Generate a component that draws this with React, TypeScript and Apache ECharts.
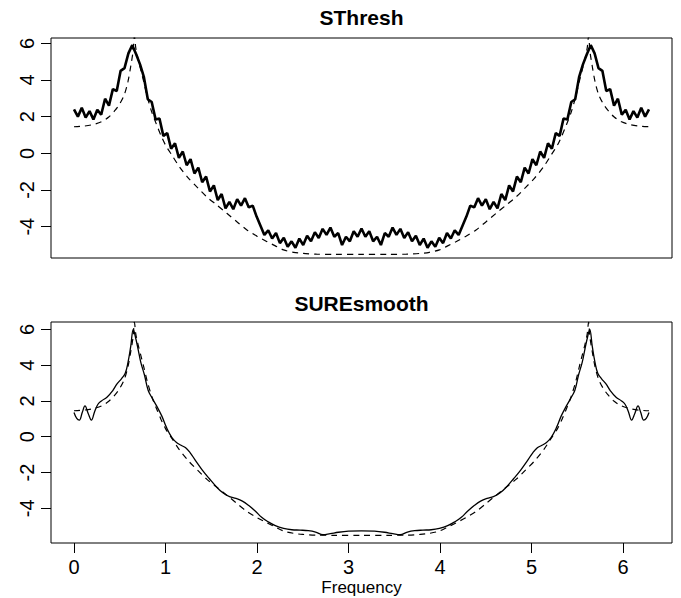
import React, { useEffect, useRef } from "react";
import * as echarts from "echarts";

// ---- data ----
const PANEL_TITLES = ["SThresh", "SUREsmooth"];
const X_AXIS_LABEL = "Frequency";
const X_TICKS = [0, 1, 2, 3, 4, 5, 6];
const Y_TICKS = [-4, -2, 0, 2, 4, 6];

// frequency grid of the thresholded estimate: 0 .. 2*pi in N_FREQ steps
const TWO_PI = 6.2832;
const N_FREQ = 148;

// SThresh estimate (log spectrum), one value per grid frequency
const STHRESH_Y = [
  2.40, 2.00, 2.48, 1.95, 2.30, 1.85, 2.38, 2.10, 2.98, 2.60,
  3.50, 3.40, 4.50, 4.65, 5.45, 5.90, 5.40, 4.85, 4.15, 2.95,
  2.80, 1.85, 1.90, 0.95, 1.10, 0.25, 0.55, -0.25, 0.10, -0.65,
  -0.32, -1.10, -0.78, -1.58, -1.27, -2.08, -1.75, -2.55, -2.22, -3.00,
  -2.65, -3.05, -2.50, -2.85, -2.45, -2.95, -2.85, -3.45, -3.95, -4.45,
  -4.20, -4.65, -4.35, -4.90, -4.60, -5.10, -4.80, -5.15, -4.65, -5.00,
  -4.50, -4.80, -4.30, -4.62, -4.12, -4.45, -4.05, -4.55, -4.35, -5.00,
  -4.55, -4.80, -4.25, -4.55, -4.10,
  -4.55, -4.25, -4.80, -4.55, -5.00, -4.35, -4.55, -4.05, -4.45, -4.12,
  -4.62, -4.30, -4.80, -4.50, -5.00, -4.65, -5.15, -4.80, -5.10, -4.60,
  -4.90, -4.35, -4.65, -4.20, -4.45, -3.95, -3.45, -2.85, -2.95, -2.45,
  -2.85, -2.50, -3.05, -2.65, -3.00, -2.22, -2.55, -1.75, -2.08, -1.27,
  -1.58, -0.78, -1.10, -0.32, -0.65, 0.10, -0.25, 0.55, 0.25, 1.10,
  0.95, 1.90, 1.85, 2.80, 2.95, 4.15, 4.85, 5.40, 5.90, 5.45,
  4.65, 4.50, 3.40, 3.50, 2.60, 2.98, 2.10, 2.38, 1.85, 2.30,
  1.95, 2.48, 2.00, 2.40,
];

// true log spectrum (dashed)
const TRUE_X = [
  0.00, 0.10, 0.20, 0.30, 0.38, 0.45, 0.50, 0.55, 0.59, 0.62,
  0.645, 0.66, 0.675, 0.70, 0.73, 0.76, 0.80, 0.85, 0.90, 0.95,
  1.00, 1.07, 1.15, 1.25, 1.35, 1.45, 1.55, 1.67, 1.78, 1.89,
  2.00, 2.11, 2.20, 2.29, 2.40, 2.50, 2.65, 2.85, 3.1416,
  3.4332, 3.6332, 3.7832, 3.8832, 3.9932, 4.0832, 4.1732, 4.2832, 4.3932, 4.5032,
  4.6132, 4.7332, 4.8332, 4.9332, 5.0332, 5.1332, 5.2132, 5.2832, 5.3332, 5.3832,
  5.4332, 5.4832, 5.5232, 5.5532, 5.5832, 5.6082, 5.6232, 5.6382, 5.6632, 5.6932,
  5.7332, 5.7832, 5.8332, 5.9032, 5.9832, 6.0832, 6.1832, 6.2832,
];
const TRUE_Y = [
  1.45, 1.48, 1.56, 1.72, 1.98, 2.35, 2.70, 3.20, 3.92, 4.75,
  5.55, 6.40, 5.75, 5.15, 4.55, 3.95, 3.10, 2.25, 1.59, 0.98,
  0.45, -0.10, -0.72, -1.35, -1.87, -2.37, -2.78, -3.27, -3.73, -4.18,
  -4.52, -4.82, -5.05, -5.27, -5.40, -5.46, -5.50, -5.51, -5.51,
  -5.51, -5.50, -5.46, -5.40, -5.27, -5.05, -4.82, -4.52, -4.18, -3.73,
  -3.27, -2.78, -2.37, -1.87, -1.35, -0.72, -0.10, 0.45, 0.98, 1.59,
  2.25, 3.10, 3.95, 4.55, 5.15, 5.75, 6.40, 5.55, 4.75, 3.92,
  3.20, 2.70, 2.35, 1.98, 1.72, 1.56, 1.48, 1.45,
];

// SUREsmooth estimate
const SURE_X = [
  0.00, 0.03, 0.058, 0.09, 0.12, 0.155, 0.19, 0.225, 0.26, 0.30,
  0.36, 0.42, 0.47, 0.52, 0.56, 0.59, 0.62, 0.648, 0.67, 0.70,
  0.73, 0.77, 0.81, 0.86, 0.91, 0.96, 1.01, 1.07, 1.12, 1.17,
  1.22, 1.27, 1.33, 1.40, 1.48, 1.56, 1.63, 1.70, 1.77, 1.84,
  1.91, 1.98, 2.05, 2.12, 2.20, 2.29, 2.38, 2.47, 2.56, 2.64,
  2.72, 2.80, 2.89, 3.00, 3.1416,
  3.2832, 3.3932, 3.4832, 3.5632, 3.6432, 3.7232, 3.8132, 3.9032, 3.9932, 4.0832,
  4.1632, 4.2332, 4.3032, 4.3732, 4.4432, 4.5132, 4.5832, 4.6532, 4.7232, 4.8032,
  4.8832, 4.9532, 5.0132, 5.0632, 5.1132, 5.1632, 5.2132, 5.2732, 5.3232, 5.3732,
  5.4232, 5.4732, 5.5132, 5.5532, 5.5832, 5.6132, 5.6352, 5.6632, 5.6932, 5.7232,
  5.7632, 5.8132, 5.8632, 5.9232, 5.9832, 6.0232, 6.0582, 6.0932, 6.1282, 6.1632,
  6.1932, 6.2252, 6.2532, 6.2832,
];
const SURE_Y = [
  1.35, 1.02, 0.93, 1.35, 1.72, 1.30, 0.93, 1.40, 1.80, 2.00,
  2.20, 2.55, 2.95, 3.25, 3.55, 4.15, 5.05, 6.00, 5.60, 4.90,
  4.15, 3.45, 2.60, 2.10, 1.65, 1.15, 0.52, -0.05, -0.32, -0.48,
  -0.62, -0.90, -1.35, -1.85, -2.35, -2.82, -3.15, -3.35, -3.45, -3.60,
  -3.85, -4.15, -4.50, -4.75, -4.97, -5.12, -5.20, -5.22, -5.25, -5.33,
  -5.48, -5.42, -5.34, -5.28, -5.26,
  -5.28, -5.34, -5.42, -5.48, -5.33, -5.25, -5.22, -5.20, -5.12, -4.97,
  -4.75, -4.50, -4.15, -3.85, -3.60, -3.45, -3.35, -3.15, -2.82, -2.35,
  -1.85, -1.35, -0.90, -0.62, -0.48, -0.32, -0.05, 0.52, 1.15, 1.65,
  2.10, 2.60, 3.45, 4.15, 4.90, 5.60, 6.00, 5.05, 4.15, 3.55,
  3.25, 2.95, 2.55, 2.20, 2.00, 1.80, 1.40, 0.93, 1.30, 1.72,
  1.35, 0.93, 1.02, 1.35,
];

const FONT = '"Liberation Sans", Arial, Helvetica, sans-serif';

export default function App() {
  const ref = useRef<HTMLDivElement>(null);

  useEffect(() => {
    if (!ref.current) return;
    const chart = echarts.init(ref.current, null, { renderer: "svg" });

    const sthresh = STHRESH_Y.map((v, i) => [(i * TWO_PI) / N_FREQ, v]);
    const truth = TRUE_X.map((x, i) => [x, TRUE_Y[i]]);
    const sure = SURE_X.map((x, i) => [x, SURE_Y[i]]);

    const xMin = -0.2513;
    const xMax = 6.5345;

    const yAxisCommon = {
      type: "value" as const,
      axisLine: { show: false, onZero: false },
      splitLine: { show: false },
      axisTick: {
        show: true,
        length: 10,
        inside: false,
        customValues: Y_TICKS,
        lineStyle: { color: "#000", width: 1 },
      },
      axisLabel: {
        show: true,
        rotate: 90,
        margin: 14,
        fontSize: 20,
        fontFamily: FONT,
        color: "#000",
        customValues: Y_TICKS,
      },
    };

    const dashed = { color: "#000", width: 1.2, type: [6, 5] };

    const option: any = {
      animation: false,
      backgroundColor: "#fff",
      grid: [
        { left: 51, top: 38, width: 621, height: 220, show: true, borderColor: "#000", borderWidth: 1, backgroundColor: "transparent" },
        { left: 51, top: 322, width: 621, height: 221, show: true, borderColor: "#000", borderWidth: 1, backgroundColor: "transparent" },
      ],
      xAxis: [
        { type: "value", gridIndex: 0, min: xMin, max: xMax, show: false, axisLine: { onZero: false } },
        {
          type: "value",
          gridIndex: 1,
          min: xMin,
          max: xMax,
          axisLine: { show: false, onZero: false },
          splitLine: { show: false },
          axisTick: {
            show: true,
            length: 10,
            inside: false,
            customValues: X_TICKS,
            lineStyle: { color: "#000", width: 1 },
          },
          axisLabel: {
            show: true,
            margin: 14,
            fontSize: 20,
            fontFamily: FONT,
            color: "#000",
            customValues: X_TICKS,
          },
        },
      ],
      yAxis: [
        { ...yAxisCommon, gridIndex: 0, min: -5.71, max: 6.29 },
        { ...yAxisCommon, gridIndex: 1, min: -5.94, max: 6.41 },
      ],
      graphic: [
        {
          type: "text",
          x: 361.5,
          y: 17.5,
          style: { text: PANEL_TITLES[0], font: `bold 21px ${FONT}`, fill: "#000", align: "center", verticalAlign: "middle" },
        },
        {
          type: "text",
          x: 361.5,
          y: 303,
          style: { text: PANEL_TITLES[1], font: `bold 21px ${FONT}`, fill: "#000", align: "center", verticalAlign: "middle" },
        },
        {
          type: "text",
          x: 361.5,
          y: 587,
          style: { text: X_AXIS_LABEL, font: `17px ${FONT}`, fill: "#000", align: "center", verticalAlign: "middle" },
        },
      ],
      series: [
        {
          type: "line",
          xAxisIndex: 0,
          yAxisIndex: 0,
          data: truth,
          showSymbol: false,
          symbol: "none",
          smooth: 0.3,
          lineStyle: dashed,
          silent: true,
        },
        {
          type: "line",
          xAxisIndex: 0,
          yAxisIndex: 0,
          data: sthresh,
          showSymbol: false,
          symbol: "none",
          lineStyle: { color: "#000", width: 2.6 },
          silent: true,
        },
        {
          type: "line",
          xAxisIndex: 1,
          yAxisIndex: 1,
          data: truth,
          showSymbol: false,
          symbol: "none",
          smooth: 0.3,
          lineStyle: dashed,
          silent: true,
        },
        {
          type: "line",
          xAxisIndex: 1,
          yAxisIndex: 1,
          data: sure,
          showSymbol: false,
          symbol: "none",
          smooth: 0.4,
          lineStyle: { color: "#000", width: 1.3 },
          silent: true,
        },
      ],
    };

    chart.setOption(option);
    return () => chart.dispose();
  }, []);

  return (
    <div
      ref={ref}
      style={{ position: "fixed", left: 0, top: 0, width: 681, height: 598, background: "#fff" }}
    />
  );
}
